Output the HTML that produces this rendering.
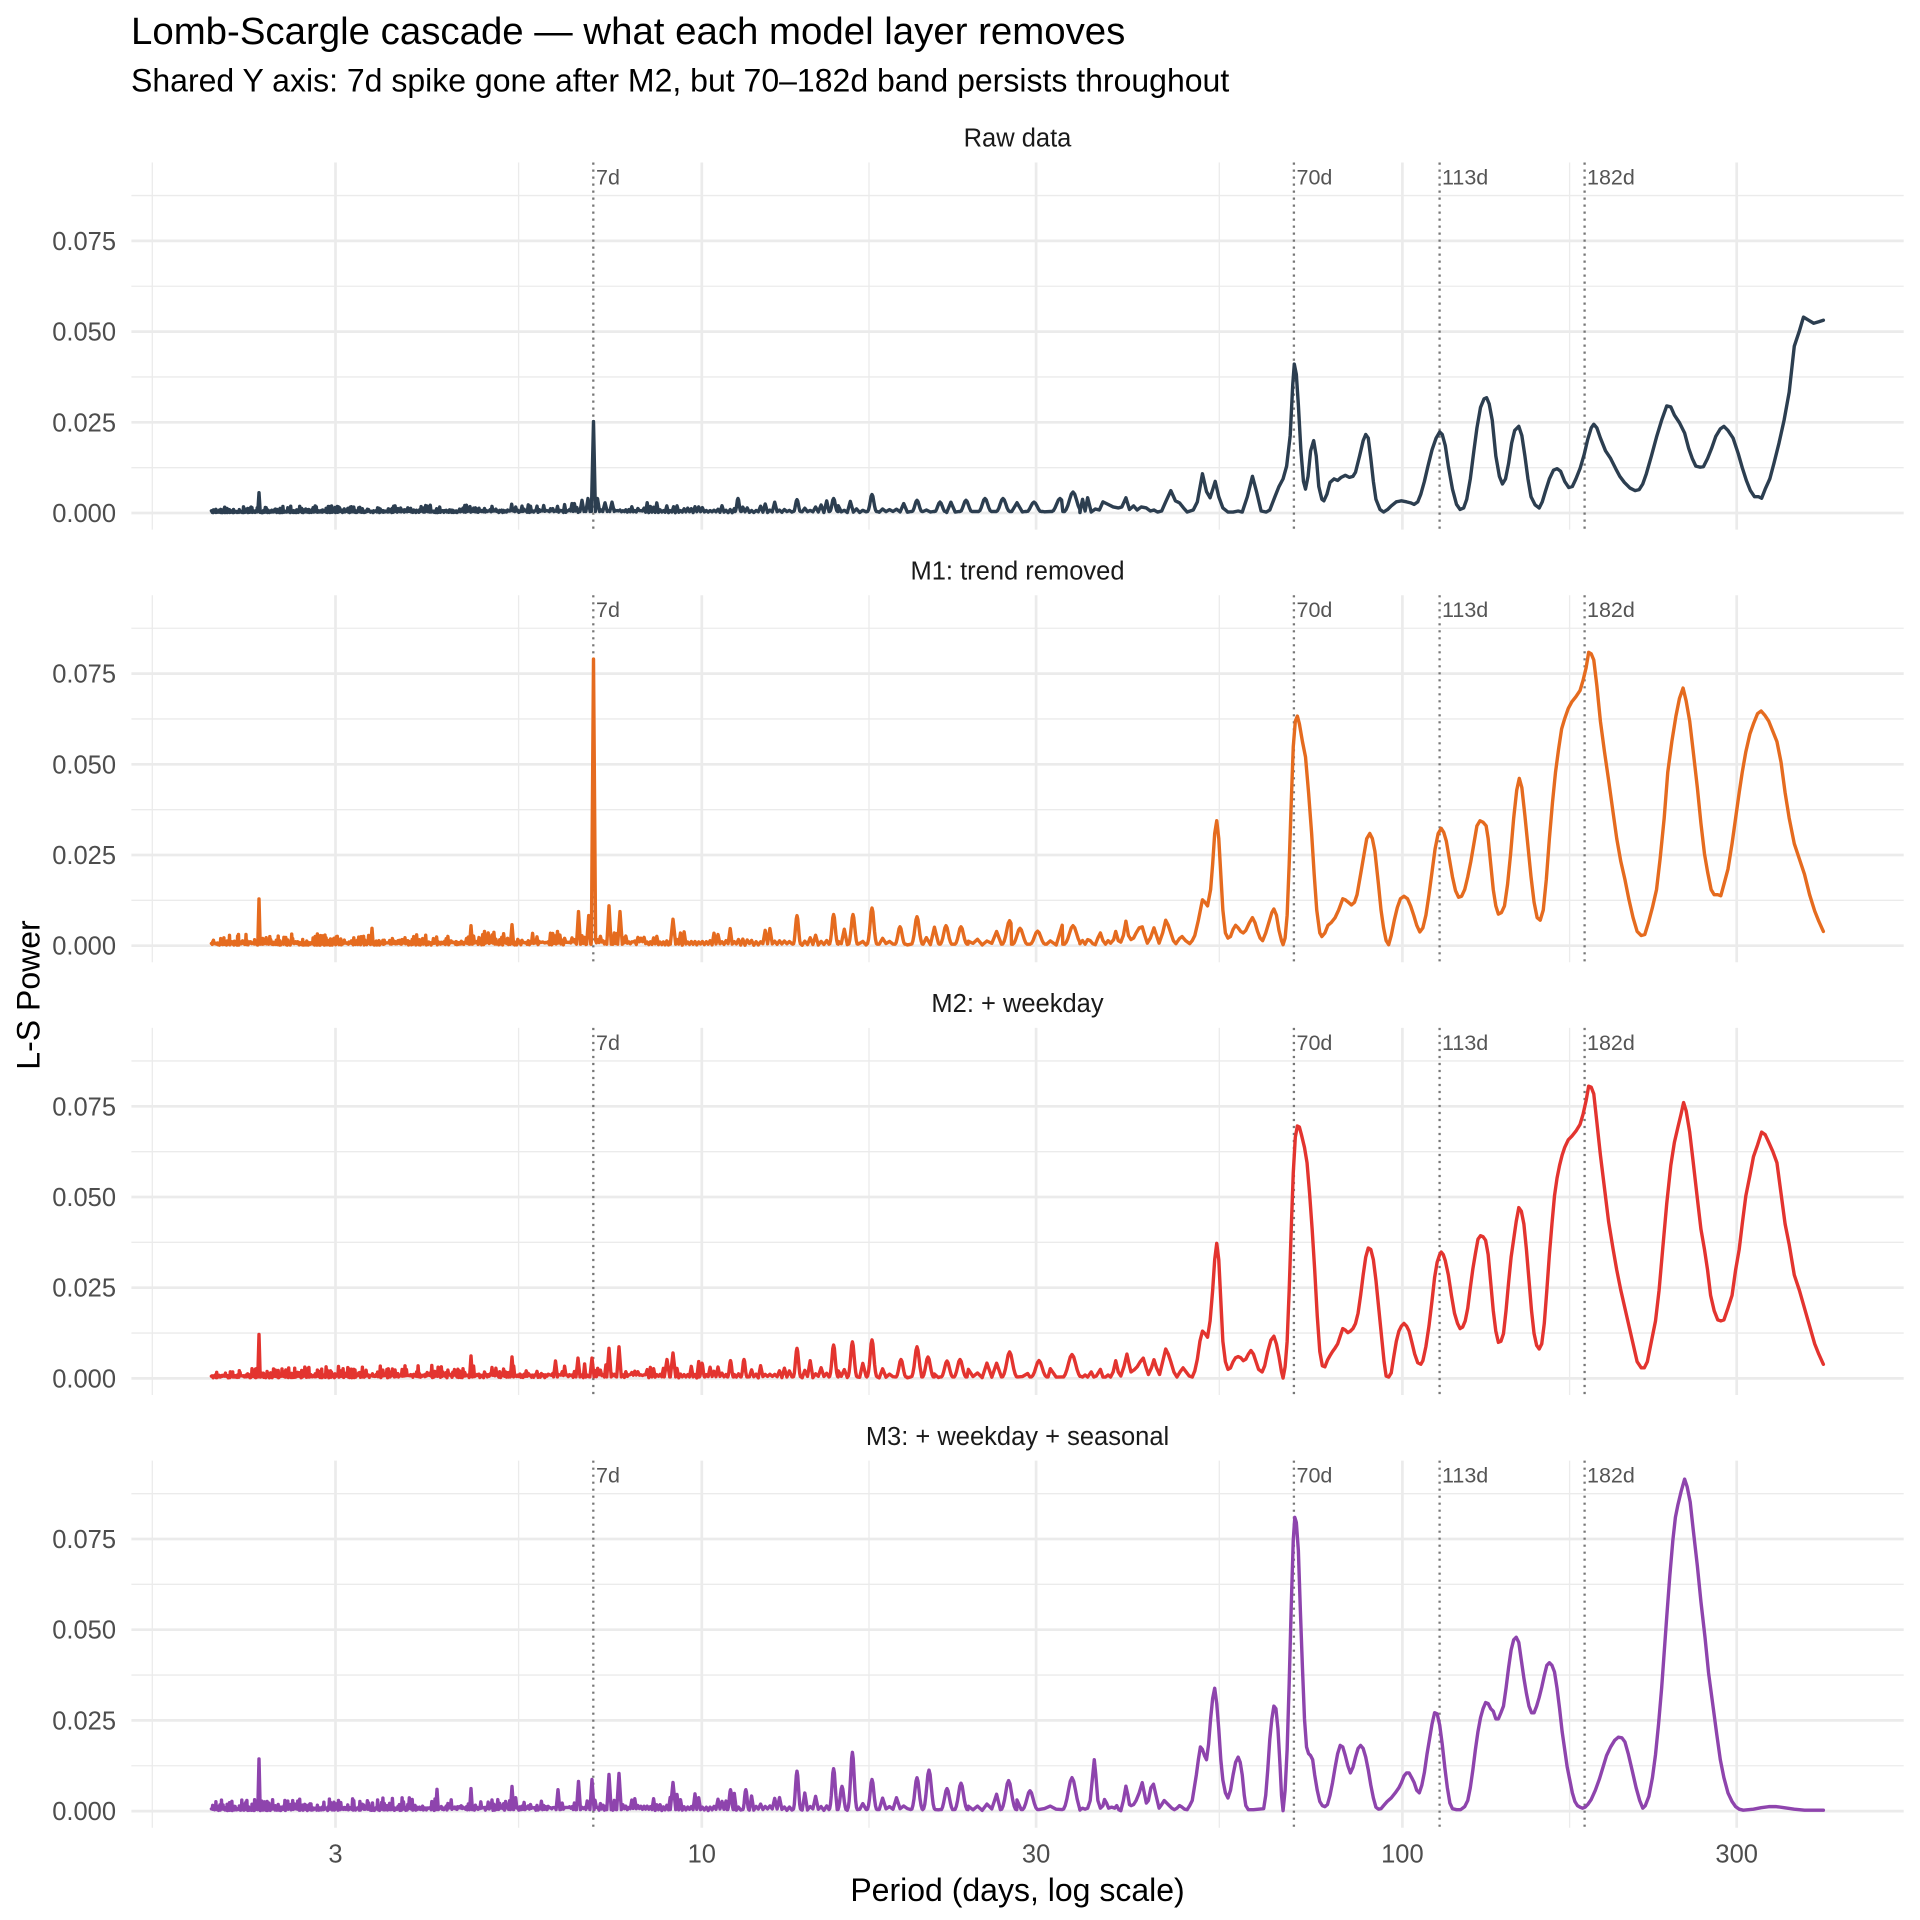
<!DOCTYPE html>
<html>
<head>
<meta charset="utf-8">
<style>
  html,body{margin:0;padding:0;background:#fff;}
  svg{display:block;}
  text{font-family:"Liberation Sans", Arial, sans-serif;}
</style>
</head>
<body>
<svg width="1920" height="1920" viewBox="0 0 1920 1920" xmlns="http://www.w3.org/2000/svg">
<rect x="0" y="0" width="1920" height="1920" fill="#ffffff"/>
<defs>
  <g id="grid">
    <g stroke="#ebebeb" stroke-width="1.35" fill="none">
      <line x1="131.4" x2="1903.7" y1="-45.35" y2="-45.35"/>
      <line x1="131.4" x2="1903.7" y1="-136.05" y2="-136.05"/>
      <line x1="131.4" x2="1903.7" y1="-226.75" y2="-226.75"/>
      <line x1="131.4" x2="1903.7" y1="-317.45" y2="-317.45"/>
      <line x1="152.3" x2="152.3" y1="-350.5" y2="16.6"/>
      <line x1="518.6" x2="518.6" y1="-350.5" y2="16.6"/>
      <line x1="869.0" x2="869.0" y1="-350.5" y2="16.6"/>
      <line x1="1219.3" x2="1219.3" y1="-350.5" y2="16.6"/>
      <line x1="1569.6" x2="1569.6" y1="-350.5" y2="16.6"/>
    </g>
    <g stroke="#ebebeb" stroke-width="2.7" fill="none">
      <line x1="131.4" x2="1903.7" y1="0" y2="0"/>
      <line x1="131.4" x2="1903.7" y1="-90.7" y2="-90.7"/>
      <line x1="131.4" x2="1903.7" y1="-181.4" y2="-181.4"/>
      <line x1="131.4" x2="1903.7" y1="-272.1" y2="-272.1"/>
      <line x1="335.5" x2="335.5" y1="-350.5" y2="16.6"/>
      <line x1="701.8" x2="701.8" y1="-350.5" y2="16.6"/>
      <line x1="1036.1" x2="1036.1" y1="-350.5" y2="16.6"/>
      <line x1="1402.4" x2="1402.4" y1="-350.5" y2="16.6"/>
      <line x1="1736.7" x2="1736.7" y1="-350.5" y2="16.6"/>
    </g>
    <g stroke="#777777" stroke-width="2.3" stroke-dasharray="2.2 4.8" fill="none">
      <line x1="593.3" x2="593.3" y1="-350.5" y2="16.6"/>
      <line x1="1293.9" x2="1293.9" y1="-350.5" y2="16.6"/>
      <line x1="1439.6" x2="1439.6" y1="-350.5" y2="16.6"/>
      <line x1="1584.6" x2="1584.6" y1="-350.5" y2="16.6"/>
    </g>
  </g>
</defs>

<use href="#grid" transform="translate(0,513)"/>
<use href="#grid" transform="translate(0,945.7)"/>
<use href="#grid" transform="translate(0,1378.4)"/>
<use href="#grid" transform="translate(0,1811.1)"/>

<!-- Titles -->
<text x="131" y="44" font-size="38.4" fill="#000">Lomb-Scargle cascade — what each model layer removes</text>
<text x="131" y="91.5" font-size="32" fill="#000">Shared Y axis: 7d spike gone after M2, but 70–182d band persists throughout</text>

<!-- Strip labels -->
<g font-size="25.5" fill="#1a1a1a" text-anchor="middle">
  <text x="1017.5" y="146.7">Raw data</text>
  <text x="1017.5" y="579.4">M1: trend removed</text>
  <text x="1017.5" y="1012.1">M2: + weekday</text>
  <text x="1017.5" y="1444.8">M3: + weekday + seasonal</text>
</g>

<!-- Y tick labels -->
<g font-size="25.5" fill="#4d4d4d" text-anchor="end">
  <text x="116" y="522">0.000</text><text x="116" y="431.3">0.025</text><text x="116" y="340.6">0.050</text><text x="116" y="249.9">0.075</text>
  <text x="116" y="954.7">0.000</text><text x="116" y="864.0">0.025</text><text x="116" y="773.3">0.050</text><text x="116" y="682.6">0.075</text>
  <text x="116" y="1387.4">0.000</text><text x="116" y="1296.7">0.025</text><text x="116" y="1206.0">0.050</text><text x="116" y="1115.3">0.075</text>
  <text x="116" y="1820.1">0.000</text><text x="116" y="1729.4">0.025</text><text x="116" y="1638.7">0.050</text><text x="116" y="1548.0">0.075</text>
</g>

<!-- X tick labels -->
<g font-size="25.5" fill="#4d4d4d" text-anchor="middle">
  <text x="335.5" y="1862.5">3</text>
  <text x="701.8" y="1862.5">10</text>
  <text x="1036.1" y="1862.5">30</text>
  <text x="1402.4" y="1862.5">100</text>
  <text x="1736.7" y="1862.5">300</text>
</g>

<!-- Axis titles -->
<text x="1017.5" y="1901" font-size="32" fill="#000" text-anchor="middle">Period (days, log scale)</text>
<text transform="translate(39.3,995) rotate(-90)" x="0" y="0" font-size="32" fill="#000" text-anchor="middle">L-S Power</text>

<!-- Noise (left) paths, filled by script; fallback baseline -->
<g fill="none" stroke-width="3.4" stroke-linejoin="round" stroke-linecap="round">
  <path id="n0" stroke="#2c3e50" d="M211.4,513L1080,513"/>
  <path id="n1" stroke="#e56b1f" d="M211.4,945.7L1080,945.7"/>
  <path id="n2" stroke="#e3342f" d="M211.4,1378.4L1080,1378.4"/>
  <path id="n3" stroke="#8e44ad" d="M211.4,1811.1L1080,1811.1"/>
</g>

<!-- Traced smooth parts (zoom coordinates) -->
<g transform="translate(1080,160) scale(0.5102041)" fill="none" stroke-linejoin="round" stroke-linecap="round">
<polyline vector-effect="non-scaling-stroke" stroke-width="3.4" stroke="#2c3e50" points="0,690 5,665 10,688 15,662 22,690 30,684 38,686 45,670 55,675 65,680 75,682 82,680 90,662 97,685 105,678 112,686 120,680 130,682 138,688 145,686 152,690 160,688 168,670 178,648 187,668 195,672 203,682 210,690 222,686 230,670 240,615 248,650 255,662 265,630 272,660 280,682 290,690 300,690 310,688 318,690 328,660 338,620 346,650 355,688 365,690 372,686 382,660 390,640 398,625 405,600 412,540 417,440 420,400 424,420 428,480 433,570 438,630 442,645 447,620 452,570 458,550 463,580 468,640 474,665 478,668 484,655 490,632 498,625 505,628 512,622 520,618 528,622 535,620 540,612 548,580 555,550 560,538 565,545 570,585 575,630 580,665 588,685 595,690 603,685 610,678 620,670 630,668 640,670 648,672 655,675 662,670 668,655 675,630 682,600 690,568 698,545 705,533 710,538 716,560 722,600 730,645 738,675 745,685 752,682 758,665 765,625 772,570 778,525 785,485 792,468 797,466 802,478 808,510 815,580 822,620 828,635 834,625 840,595 846,555 852,530 860,522 866,540 872,580 878,625 884,660 892,676 900,682 906,670 912,650 920,625 928,608 935,605 942,610 950,630 958,642 965,640 972,625 980,605 988,578 995,548 1002,525 1007,518 1013,525 1020,545 1030,570 1040,585 1050,605 1058,620 1067,632 1078,643 1088,648 1096,646 1103,635 1110,615 1120,580 1130,543 1140,510 1150,482 1158,484 1165,500 1175,515 1185,535 1193,565 1200,585 1207,600 1215,602 1222,601 1230,585 1238,565 1246,542 1255,527 1262,522 1270,530 1280,545 1290,575 1298,603 1306,628 1314,648 1322,660 1330,660 1336,663 1343,645 1352,625 1360,595 1370,555 1380,510 1390,455 1400,365 1410,335 1418,308 1428,314 1438,320 1448,317 1457,314"/>
<polyline vector-effect="non-scaling-stroke" stroke-width="3.4" stroke="#e56b1f" points="0,1535 5,1530 10,1537 15,1528 20,1530 25,1536 30,1538 35,1525 40,1515 45,1530 50,1537 55,1530 60,1535 66,1528 70,1512 75,1530 80,1533 85,1520 90,1492 95,1520 100,1528 105,1525 110,1515 116,1505 122,1503 127,1520 132,1535 138,1525 145,1505 150,1520 155,1535 162,1515 168,1490 173,1500 178,1515 183,1530 188,1536 195,1526 200,1522 207,1530 215,1536 220,1530 225,1520 232,1490 240,1450 245,1455 250,1462 256,1430 260,1380 264,1320 268,1295 272,1330 276,1400 280,1470 285,1515 290,1525 295,1522 300,1508 305,1500 310,1505 315,1512 320,1515 325,1510 332,1495 338,1485 343,1495 348,1512 353,1525 358,1530 364,1515 370,1495 376,1475 380,1468 385,1480 390,1510 395,1530 398,1538 402,1525 406,1480 410,1380 414,1260 418,1150 422,1100 426,1090 430,1105 436,1140 442,1170 448,1240 454,1320 459,1400 464,1470 470,1515 474,1522 480,1515 486,1500 492,1495 500,1485 507,1470 515,1448 520,1450 526,1455 532,1460 538,1455 543,1440 550,1400 556,1365 562,1330 568,1320 573,1330 578,1355 585,1420 590,1470 595,1505 600,1530 605,1538 610,1520 616,1490 622,1465 628,1448 635,1443 642,1448 648,1462 654,1480 660,1500 666,1513 672,1505 678,1480 684,1440 690,1395 696,1350 702,1320 708,1310 713,1318 718,1335 724,1370 730,1405 736,1432 742,1445 748,1443 754,1430 760,1405 766,1375 772,1340 778,1305 784,1295 790,1298 796,1305 800,1330 805,1380 810,1430 815,1462 820,1478 826,1475 832,1462 838,1420 844,1360 850,1290 856,1235 861,1212 866,1230 872,1285 878,1345 884,1405 890,1455 896,1485 902,1490 908,1470 914,1410 920,1330 926,1260 932,1200 938,1155 944,1115 950,1095 957,1075 964,1062 972,1052 980,1040 986,1020 992,995 997,965 1002,968 1007,980 1013,1030 1020,1100 1028,1160 1036,1215 1045,1280 1052,1330 1060,1375 1068,1410 1076,1450 1084,1485 1092,1512 1100,1520 1107,1518 1114,1495 1122,1465 1130,1430 1137,1370 1145,1290 1152,1200 1160,1140 1168,1090 1175,1055 1182,1035 1188,1060 1195,1100 1202,1160 1210,1230 1217,1300 1224,1360 1230,1395 1237,1430 1243,1440 1250,1440 1256,1442 1262,1420 1270,1390 1278,1340 1285,1290 1292,1240 1298,1200 1305,1160 1313,1125 1320,1105 1328,1085 1335,1080 1342,1088 1350,1100 1358,1120 1366,1140 1374,1180 1382,1240 1390,1290 1400,1340 1410,1370 1420,1400 1430,1440 1440,1472 1448,1492 1457,1512"/>
</g>

<g transform="translate(1080,1025) scale(0.5102041)" fill="none" stroke-linejoin="round" stroke-linecap="round">
<polyline vector-effect="non-scaling-stroke" stroke-width="3.4" stroke="#e3342f" points="0,688 5,690 10,686 15,690 22,680 27,690 32,688 40,675 45,690 50,690 55,686 60,690 65,680 70,658 75,680 80,688 86,670 92,645 97,668 100,680 106,676 112,670 118,660 124,653 129,670 134,685 140,672 145,656 150,672 156,685 162,660 168,635 173,645 178,660 184,680 190,690 196,680 202,672 208,680 214,688 220,690 225,678 230,655 235,620 240,600 245,605 250,612 255,580 260,520 264,460 268,428 272,460 276,540 280,620 285,660 290,675 295,672 300,660 305,652 310,650 315,652 320,658 325,655 330,645 335,638 340,645 345,660 350,675 357,680 362,668 368,640 374,618 380,610 385,625 390,650 395,680 398,692 402,670 406,620 410,520 414,400 418,290 422,220 426,198 430,200 434,215 440,240 445,270 450,330 455,400 460,480 465,570 470,640 475,668 480,670 485,657 490,648 495,640 500,633 505,625 510,610 515,595 520,598 525,603 530,600 535,595 540,585 545,565 550,530 555,490 560,455 565,437 570,440 575,460 580,500 586,560 592,620 596,660 600,688 605,690 610,682 615,650 620,620 625,600 630,590 635,585 640,590 645,600 650,620 656,645 662,662 668,665 672,658 678,630 684,590 690,540 695,495 700,465 705,450 708,445 712,450 716,462 722,490 728,530 734,565 740,585 745,595 750,592 755,580 760,555 765,515 770,478 775,448 780,420 785,413 790,415 795,422 800,450 805,505 810,560 815,600 820,622 825,620 830,605 835,560 840,505 845,455 850,420 855,385 860,358 865,365 870,390 875,440 880,500 885,560 890,605 895,628 900,635 905,625 910,585 915,520 920,450 925,390 930,335 935,300 940,275 945,255 950,240 957,225 964,218 972,208 980,195 986,175 992,148 997,120 1002,122 1007,135 1013,190 1020,255 1028,320 1036,385 1045,440 1052,480 1060,520 1068,555 1076,590 1084,625 1092,660 1100,672 1106,672 1112,660 1120,620 1128,580 1135,520 1142,440 1150,350 1158,275 1165,230 1172,200 1178,175 1183,152 1188,168 1195,210 1202,270 1210,340 1217,400 1224,440 1230,480 1236,530 1243,560 1250,578 1256,580 1262,578 1270,555 1278,530 1285,480 1292,440 1298,390 1305,335 1313,295 1320,258 1328,235 1336,210 1343,215 1350,230 1358,248 1366,270 1374,330 1382,390 1390,430 1400,490 1410,520 1420,555 1430,590 1440,625 1448,645 1457,665"/>
<polyline vector-effect="non-scaling-stroke" stroke-width="3.4" stroke="#8e44ad" points="0,1538 5,1535 10,1537 15,1535 20,1520 24,1480 28,1440 31,1470 35,1520 40,1535 45,1530 48,1518 52,1525 56,1535 62,1533 68,1535 72,1530 76,1538 80,1540 85,1520 90,1492 94,1510 97,1528 100,1530 105,1528 110,1520 116,1505 122,1485 126,1505 130,1525 134,1520 139,1495 144,1488 149,1510 155,1535 160,1528 165,1520 170,1525 175,1530 180,1535 185,1538 190,1535 195,1530 200,1533 205,1537 210,1538 215,1530 220,1520 224,1495 228,1470 232,1440 236,1415 240,1420 244,1432 248,1440 252,1410 256,1360 260,1320 264,1300 268,1330 272,1380 276,1440 280,1480 285,1505 290,1515 295,1500 300,1470 305,1445 310,1435 314,1445 318,1470 322,1510 325,1530 330,1538 340,1538 350,1537 360,1536 364,1510 368,1460 372,1400 376,1360 380,1335 384,1340 388,1380 392,1450 395,1510 398,1540 402,1500 406,1420 410,1290 414,1140 418,1010 421,965 424,975 428,1030 432,1150 436,1260 440,1360 444,1415 448,1428 452,1432 456,1440 460,1470 465,1500 470,1522 475,1530 480,1532 485,1528 490,1510 495,1485 500,1455 505,1428 510,1412 515,1415 520,1432 525,1452 530,1466 535,1455 540,1435 545,1418 550,1412 555,1418 560,1435 565,1460 570,1490 575,1515 580,1533 585,1537 590,1536 595,1530 602,1522 610,1515 618,1505 625,1495 630,1485 635,1472 640,1466 645,1466 650,1475 655,1485 660,1500 665,1505 670,1490 675,1465 680,1430 685,1400 690,1370 695,1348 700,1350 705,1372 710,1410 715,1455 720,1495 725,1525 730,1536 738,1538 746,1538 754,1532 760,1520 765,1495 770,1460 775,1420 780,1385 785,1358 790,1340 795,1328 800,1330 805,1340 810,1345 815,1360 820,1360 825,1348 830,1335 835,1300 840,1260 845,1225 850,1205 855,1200 860,1210 865,1245 870,1280 875,1310 880,1335 885,1348 890,1348 895,1335 900,1318 905,1298 910,1275 915,1255 920,1250 925,1255 930,1268 935,1300 940,1340 945,1385 950,1420 955,1455 960,1480 965,1505 970,1522 975,1530 980,1533 985,1535 990,1533 995,1528 1002,1518 1010,1500 1018,1478 1025,1455 1032,1432 1040,1415 1048,1402 1055,1396 1062,1397 1068,1405 1075,1430 1082,1460 1090,1495 1097,1520 1103,1535 1108,1530 1115,1512 1122,1475 1128,1430 1134,1370 1140,1300 1145,1230 1150,1160 1156,1080 1162,1010 1167,965 1172,940 1178,915 1185,890 1190,905 1196,935 1202,990 1210,1060 1217,1130 1225,1200 1232,1270 1240,1330 1248,1390 1255,1440 1262,1475 1270,1505 1278,1522 1285,1532 1292,1537 1300,1539 1310,1538 1320,1537 1335,1534 1350,1532 1365,1532 1380,1534 1400,1537 1420,1539 1440,1539 1457,1539"/>
</g>

<!-- Reference line labels -->
<g font-size="21.5" fill="#555555">
  <text x="596" y="184.5">7d</text><text x="1296.5" y="184.5">70d</text><text x="1442" y="184.5">113d</text><text x="1587" y="184.5">182d</text>
  <text x="596" y="617.2">7d</text><text x="1296.5" y="617.2">70d</text><text x="1442" y="617.2">113d</text><text x="1587" y="617.2">182d</text>
  <text x="596" y="1049.9">7d</text><text x="1296.5" y="1049.9">70d</text><text x="1442" y="1049.9">113d</text><text x="1587" y="1049.9">182d</text>
  <text x="596" y="1482.6">7d</text><text x="1296.5" y="1482.6">70d</text><text x="1442" y="1482.6">113d</text><text x="1587" y="1482.6">182d</text>
</g>
</svg>

<script>
(function(){
  var X0=335.5, D=700.6, S=3628;
  function per(x){ return 3*Math.pow(10,(x-X0)/D); }
  function mk(seed){ var s=seed>>>0; return function(){ s=(Math.imul(s,1664525)+1013904223)>>>0; return s/4294967296; }; }
  var cfg=[
    {id:'n0',k:0,seed:11,a0:0.0017,a1:0.0040,end:0.00014,
     sp:[[259,0.0056],[582,0.0035],[588,0.004],[593.5,0.0252],[597.5,0.004],[605,0.0028],[612,0.003],[738,0.004],[797,0.0037],[833.6,0.004],[872,0.0051],[917,0.0035],[940,0.003],[966,0.0035],[985,0.004],[1003,0.004],[1034,0.003],[1060,0.004],[1073,0.0058]]},
    {id:'n1',k:1,seed:23,a0:0.0030,a1:0.0060,end:0.00056,
     sp:[[259,0.0129],[372,0.0048],[471,0.0055],[512,0.0058],[578.5,0.0094],[588.7,0.0083],[593.5,0.079],[609,0.011],[620,0.0094],[673,0.0073],[797,0.0083],[833.6,0.0086],[853,0.0086],[872,0.0104],[900,0.0052],[917,0.008],[946,0.0055],[961,0.0052],[1009.6,0.0069],[1020,0.0048],[1037.6,0.004],[1073,0.0055]]},
    {id:'n2',k:2,seed:37,a0:0.0030,a1:0.0060,end:0.00056,
     sp:[[259,0.0121],[471,0.0062],[512,0.0059],[555.5,0.0048],[578,0.0056],[592,0.0056],[609,0.0083],[619,0.0087],[667,0.0052],[673,0.007],[702,0.0042],[730.5,0.0049],[744,0.0052],[797,0.0083],[833.6,0.0092],[852.4,0.0101],[872,0.0106],[901,0.0052],[917,0.0087],[928,0.0059],[947,0.0048],[960,0.0052],[1009.6,0.0073],[1039,0.0049],[1072,0.0066]]},
    {id:'n3',k:3,seed:51,a0:0.0030,a1:0.0062,end:0.00028,
     sp:[[259,0.0144],[437,0.006],[471,0.0062],[512,0.0068],[558,0.0059],[578.5,0.0082],[592,0.0087],[609,0.0101],[619,0.0104],[673,0.0079],[730.5,0.0059],[745.8,0.0059],[797,0.011],[833.6,0.0117],[842,0.0068],[852.4,0.0162],[872,0.0087],[917,0.0092],[929,0.0113],[947,0.0062],[961,0.0077],[1008.6,0.0084],[1030,0.0056],[1072,0.0092]]}
  ];
  cfg.forEach(function(c){
    var r=mk(c.seed), y0=513+432.7*c.k, pts=[], x=211.4;
    pts.push([211.4,0.0006]);
    x+=0.5;
    while(x<1076){
      var t=(x-211.4)/868.6, A=c.a0+(c.a1-c.a0)*t;
      var w=Math.max(0.8,0.38*per(x));
      var u=r();
      var h=A*(0.22+0.78*u*u*u);
      pts.push([x,h]);
      var lo=A*(0.05+0.2*r())*(t<0.5?1:0.5);
      pts.push([x+w/2,lo]);
      x+=w;
    }
    c.sp.forEach(function(s){
      var sx=s[0], v=s[1], sw=Math.max(1.2,0.3*per(sx));
      pts=pts.filter(function(p){ return p[0]<sx-sw || p[0]>sx+sw; });
      var n = sw>3 ? 6 : 1;
      for(var i=-n;i<=n;i++){
        var xx=sx+i*sw/n;
        var g=Math.exp(-Math.pow(i/n*2,2));
        pts.push([xx, Math.max(v*g, 0.0004)]);
      }
    });
    pts=pts.filter(function(p){ return p[0]>=211.4 && p[0]<1080; });
    pts.sort(function(a,b){ return a[0]-b[0]; });
    pts.push([1080,c.end]);
    var d='M'+pts.map(function(p){ return p[0].toFixed(1)+','+(y0-p[1]*S).toFixed(1); }).join('L');
    var el=document.getElementById(c.id);
    if(el) el.setAttribute('d',d);
  });
})();
</script>
</body>
</html>
